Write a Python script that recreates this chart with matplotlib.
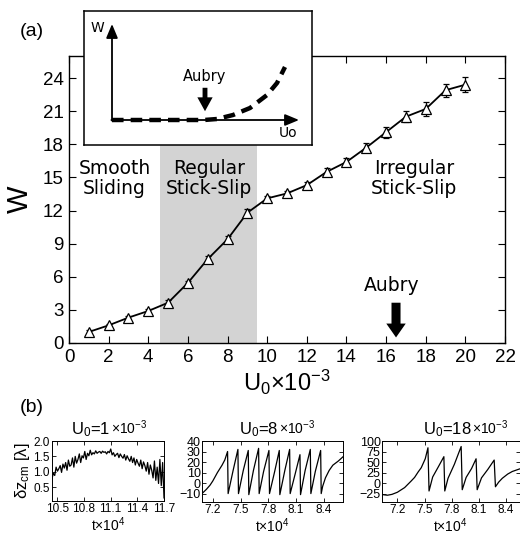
import numpy as np
import matplotlib
matplotlib.use("Agg")
import matplotlib.pyplot as plt

plt.rcParams['font.family'] = ['Liberation Sans', 'DejaVu Sans']
plt.rcParams['mathtext.default'] = 'regular'

# ---- main panel: friction width W versus driving amplitude U0 ----
u0 = [1, 2, 3, 4, 5, 6, 7, 8, 9, 10, 11, 12, 13, 14, 15, 16, 17, 18, 19, 20]
w_vals = [1.0, 1.6, 2.3, 2.9, 3.65, 5.45, 7.6, 9.4, 11.8, 13.1, 13.55, 14.3,
          15.5, 16.4, 17.7, 19.1, 20.5, 21.2, 22.9, 23.4]
w_err = [0.15, 0.15, 0.15, 0.15, 0.2, 0.2, 0.25, 0.25, 0.3, 0.25, 0.25, 0.25,
         0.35, 0.35, 0.4, 0.5, 0.5, 0.6, 0.6, 0.7]
shade_range = (4.6, 9.5)
aubry_u0 = 16.5
x_ticks = list(range(0, 23, 2))
y_ticks = list(range(0, 25, 3))

# ---- inset sketch (schematic W vs U0) ----
sketch_x = [28, 120, 133, 149, 166, 183, 193, 201]
sketch_y = [25, 25, 26, 30, 37, 50, 62, 78]

# ---- panel (b) time series ----
t1_vals = [0.78, 0.95, 0.88, 1.15, 1.02, 1.10, 1.20, 0.98, 1.25, 1.12,
           1.30, 1.05, 1.38, 1.18, 1.22, 1.45, 1.15, 1.50, 1.28, 1.40,
           1.58, 1.30, 1.52, 1.45, 1.66, 1.40, 1.60, 1.52, 1.70, 1.55,
           1.62, 1.58, 1.68, 1.60, 1.64, 1.66, 1.60, 1.67, 1.63, 1.65,
           1.58, 1.66, 1.62, 1.74, 1.55, 1.62, 1.50, 1.56, 1.60, 1.46,
           1.58, 1.50, 1.44, 1.56, 1.38, 1.52, 1.42, 1.34, 1.50, 1.30,
           1.45, 1.22, 1.40, 1.28, 1.18, 1.38, 1.10, 1.32, 1.20, 1.02,
           1.30, 0.92, 1.22, 1.05, 0.80, 1.35, 0.72, 1.15, 0.62, 1.40,
           0.55, 1.30, 0.15]
t1_start, t1_end = 10.44, 11.70

t2 = [7.083, 7.13, 7.17, 7.20, 7.25, 7.30, 7.33, 7.360,
      7.366, 7.42, 7.472, 7.478, 7.53, 7.584, 7.590, 7.64, 7.696,
      7.702, 7.75, 7.808, 7.814, 7.87, 7.920, 7.926, 7.98, 8.032,
      8.038, 8.09, 8.144, 8.150, 8.20, 8.256, 8.262, 8.31, 8.368,
      8.374, 8.39, 8.42, 8.46, 8.50, 8.56, 8.61]
z2 = [-10, -6, -2, 2, 10, 17, 22, 30,
      -10, 12, 32, -10, 12, 31, -11, 12, 33, -10, 11, 31, -10, 11, 31,
      -11, 12, 32, -10, 8, 27, -11, 12, 32, -10, 11, 31,
      -10, -3, 5, 12, 17, 21, 25]

t3 = [7.03, 7.05, 7.09, 7.14, 7.20, 7.28, 7.35, 7.39, 7.43, 7.464, 7.508, 7.538,
      7.550, 7.59, 7.65, 7.714, 7.724, 7.76, 7.83, 7.905, 7.917, 7.96, 8.02,
      8.070, 8.082, 8.13, 8.20, 8.270, 8.284, 8.32, 8.36, 8.42, 8.47, 8.55]
z3 = [-26, -27, -28, -26, -21, -10, 5, 14, 27, 37, 58, 84,
      -18, 15, 38, 63, -18, 12, 45, 87, -15, 14, 35,
      58, -15, 13, 33, 55, -8, 3, 12, 22, 28, 34]

fig = plt.figure(figsize=(5.2, 5.34), dpi=100)

# ================= panel (a) =================
ax = fig.add_axes([0.1327, 0.3577, 0.8385, 0.5375])
ax.axvspan(*shade_range, color='#d3d3d3', lw=0, zorder=0)
ax.errorbar(u0, w_vals, yerr=w_err, color='black', lw=1.3, elinewidth=0.9,
            capsize=2.5, capthick=0.9, marker='^', ms=6.5, mfc='white',
            mec='black', mew=0.9, zorder=3)
ax.set_xlim(0, 22)
ax.set_ylim(0, 26)
ax.set_xticks(x_ticks)
ax.set_yticks(y_ticks)
ax.tick_params(direction='in', top=True, right=True, labelsize=13.5,
               length=5, width=0.8, pad=4)
for s in ax.spines.values():
    s.set_linewidth(1.0)
ax.set_xlabel('U$_0$×10$^{-3}$', fontsize=17, labelpad=2)
ax.set_ylabel('W', fontsize=21, labelpad=6)

txt_kw = dict(ha='center', va='center', fontsize=13.5, family='DejaVu Sans',
              linespacing=1.05)
ax.text(2.3, 14.9, 'Smooth\nSliding', **txt_kw)
ax.text(7.05, 14.9, 'Regular\nStick-Slip', **txt_kw)
ax.text(17.4, 14.9, 'Irregular\nStick-Slip', **txt_kw)
ax.text(16.3, 5.2, 'Aubry', ha='center', va='center', fontsize=13.5,
        family='DejaVu Sans')
ax.annotate('', xy=(aubry_u0, 0.25), xytext=(aubry_u0, 3.9),
            arrowprops=dict(arrowstyle='simple,head_width=1.4,head_length=1.0,tail_width=0.65',
                            color='black', lw=0, mutation_scale=10))

fig.text(32 / 520, 1 - 32 / 534, '(a)', ha='center', va='center', fontsize=14)
fig.text(32 / 520, 1 - 407 / 534, '(b)', ha='center', va='center', fontsize=14)

# ================= inset sketch =================
ins = fig.add_axes([84 / 520, 1 - 145 / 534, 228 / 520, 134 / 534])
ins.set_xlim(0, 228)
ins.set_ylim(0, 134)
ins.set_xticks([])
ins.set_yticks([])
ins.set_facecolor('white')
for s in ins.spines.values():
    s.set_linewidth(1.1)
ax_arrow = dict(arrowstyle='-|>,head_length=0.6,head_width=0.25', lw=1.3,
                color='black', mutation_scale=14, shrinkA=0, shrinkB=0)
ins.annotate('', xy=(28, 121), xytext=(28, 24.4), arrowprops=ax_arrow)
ins.annotate('', xy=(215, 25), xytext=(27.4, 25), arrowprops=ax_arrow)
ins.plot(sketch_x, sketch_y, color='black', lw=3.2, dashes=(2.6, 1.6),
         solid_capstyle='butt', dash_capstyle='butt')
ins.text(13, 117, 'W', ha='center', va='center', fontsize=10,
         family='DejaVu Sans')
ins.text(204, 12, 'Uo', ha='center', va='center', fontsize=10,
         family='DejaVu Sans')
ins.text(121, 68, 'Aubry', ha='center', va='center', fontsize=10.5,
         family='DejaVu Sans')
ins.annotate('', xy=(121, 31), xytext=(121, 60),
             arrowprops=dict(arrowstyle='simple,head_width=1.1,head_length=1.0,tail_width=0.35',
                             color='black', lw=0, mutation_scale=10))

# ================= panel (b) =================
def small_panel(rect, xlim, ylim, yticks, ylabels):
    a = fig.add_axes(rect)
    a.set_xlim(*xlim)
    a.set_ylim(*ylim)
    a.set_xticks([7.2, 7.5, 7.8, 8.1, 8.4] if xlim[0] < 8 else
                 [10.5, 10.8, 11.1, 11.4, 11.7])
    a.set_yticks(yticks)
    a.set_yticklabels(ylabels)
    a.tick_params(direction='in', top=True, right=True, labelsize=8.5,
                  length=3, width=0.6, pad=1.5)
    for s in a.spines.values():
        s.set_linewidth(0.7)
    a.set_xlabel('t×10$^4$', fontsize=10, labelpad=0.5)
    return a


def panel_title(a, frac, left_txt, right_txt):
    a.annotate(left_txt, xy=(frac, 1), xycoords='axes fraction',
               xytext=(0, 5), textcoords='offset points', ha='right',
               va='baseline', fontsize=12)
    a.annotate(right_txt, xy=(frac, 1), xycoords='axes fraction',
               xytext=(0.5, 5), textcoords='offset points', ha='left',
               va='baseline', fontsize=10)


b1 = small_panel([52 / 520, 33 / 534, 112 / 520, 60 / 534], (t1_start, t1_end),
                 (0.05, 2.0), [0.5, 1.0, 1.5, 2.0], ['0.5', '1.0', '1.5', '2.0'])
b1.plot(np.linspace(t1_start, t1_end, len(t1_vals)), t1_vals, color='black', lw=0.9)
b1.set_xticklabels(['10.5', '10.8', '11.1', '11.4', '11.7'])
b1.set_ylabel('δz$_{cm}$ [λ]', fontsize=12, labelpad=1)
panel_title(b1, 0.52, 'U$_0$=1', '×10$^{-3}$')

b2 = small_panel([202 / 520, 32 / 534, 141 / 520, 61 / 534], (7.083, 8.61),
                 (-18, 40), [-10, 0, 10, 20, 30, 40],
                 ['−10', '0', '10', '20', '30', '40'])
b2.plot(t2, z2, color='black', lw=0.9)
panel_title(b2, 0.54, 'U$_0$=8', '×10$^{-3}$')

b3 = small_panel([382 / 520, 32 / 534, 137.5 / 520, 61 / 534], (7.03, 8.55),
                 (-44, 100), [-25, 0, 25, 50, 75, 100],
                 ['−25', '0', '25', '50', '75', '100'])
b3.plot(t3, z3, color='black', lw=0.9)
panel_title(b3, 0.65, 'U$_0$=18', '×10$^{-3}$')

for a in (b2, b3):
    for lab in a.get_yticklabels():
        lab.set_fontsize(9)
    a.tick_params(axis='y', pad=1)

fig.savefig('out.png', dpi=100)
